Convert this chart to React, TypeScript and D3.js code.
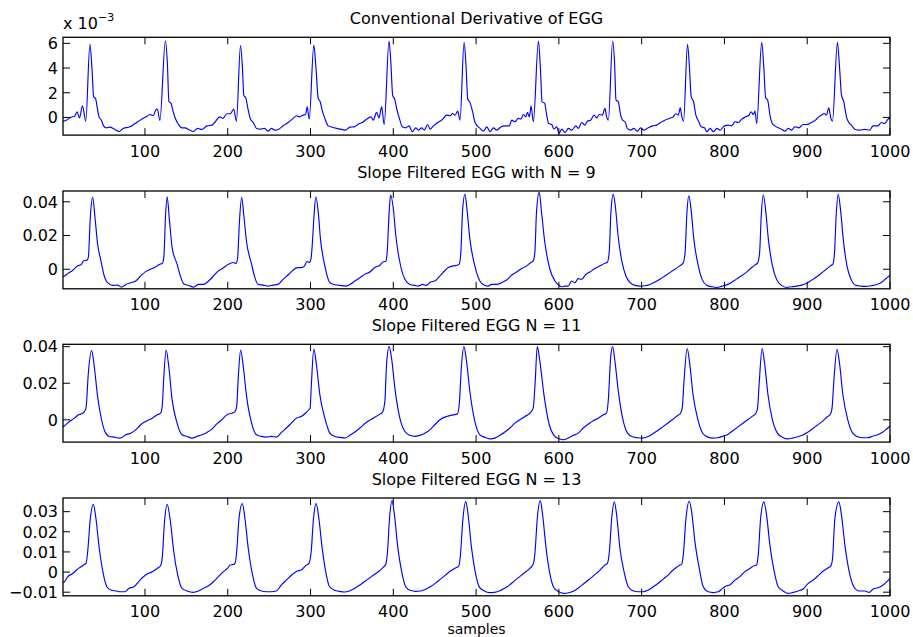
import React from "react";
import * as d3 from "d3";

// ---------- data ----------
const X_TICKS = [100, 200, 300, 400, 500, 600, 700, 800, 900, 1000];

const TITLES = [
  "Conventional Derivative of EGG",
  "Slope Filtered EGG with N = 9",
  "Slope Filtered EGG N = 11",
  "Slope Filtered EGG N = 13",
];

// panel 1 values are in units of 1e-3
const Y_TICKS_1 = [0, 2, 4, 6];
const Y_TICKS_2 = [0, 0.02, 0.04];
const Y_TICKS_3 = [0, 0.02, 0.04];
const Y_TICKS_4 = [-0.01, 0, 0.01, 0.02, 0.03];

const Y_TICK_LABELS_1 = ["0", "2", "4", "6"];
const Y_TICK_LABELS_2 = ["0", "0.02", "0.04"];
const Y_TICK_LABELS_3 = ["0", "0.02", "0.04"];
const Y_TICK_LABELS_4 = ["\u22120.01", "0", "0.01", "0.02", "0.03"];

const Y_DOMAIN_1 = [-1.43, 6.49];
const Y_DOMAIN_2 = [-0.0116, 0.0464];
const Y_DOMAIN_3 = [-0.0122, 0.0413];
const Y_DOMAIN_4 = [-0.0118, 0.0368];

const DERIV: [number, number][] = [
  [1, -0.3], [5, -0.22], [11, 0.03], [15, 0.1], [18, 0.46], [21, -0.03], [24.5, 0.95], [28.5, -0.3],
  [33.5, 5.92], [36, 3.97], [38, 1.68], [40.5, 1.49], [42.5, 0.73], [44.5, 0.05], [47.4, -0.22],
  [50, -0.68], [53.4, -0.84], [57.5, -0.78], [63.6, -0.97], [68.8, -1.14], [73.7, -0.89], [81.8, -0.76],
  [88, -0.49], [96, -0.14], [102.8, 0.11], [106, 0.24], [110, 0.14], [113, 0.59], [115, 0.68],
  [118, -0.25], [124.7, 6.19], [127, 4.5], [129, 1.27], [131.6, 1.14], [133.6, 0.59], [136.4, -0.03],
  [140.5, -0.57], [144.5, -0.84], [148.6, -0.84], [152.6, -0.97], [158.7, -1.14], [163.6, -0.89],
  [168.8, -0.97], [175, -0.68], [181, -0.62], [185, -0.35], [190.3, 0.05], [194.3, -0.08], [199, 0.3],
  [203, 0.3], [207.3, 0.68], [210.5, -0.3], [215.4, 5.81], [217.8, 3.97], [219.4, 1.81], [222, 1.54],
  [224.3, 0.73], [227.5, -0.14], [230.8, -0.41], [234.8, -0.89], [239.7, -0.95], [244.5, -0.89],
  [248.8, -1.11], [252.8, -0.89], [256.9, -1.03], [261.7, -0.95], [267, -0.68], [273, -0.41],
  [279, -0.08], [283, 0.14], [287, 0.05], [291, 0.19], [294, 0.24], [296, 0.86], [298.4, -0.14],
  [304, 5.86], [306.5, 4.1], [309.3, 1.54], [311.7, 1.27], [314, 0.59], [317.3, -0.08], [321.4, -0.68],
  [325.4, -0.78], [331.5, -0.89], [336.7, -0.95], [342.3, -1.03], [347.6, -0.78], [352.8, -0.76],
  [358.5, -0.51], [362.5, -0.41], [367.7, -0.14], [373, 0.05], [375.8, -0.22], [379.8, 0.41],
  [382.7, -0.03], [385.9, 0.86], [389, -0.57], [394.8, 6.19], [397.2, 4.24], [399.2, 1.81], [402, 1.41],
  [404, 0.73], [408, -0.22], [410.9, -0.76], [414.9, -0.84], [419, -0.68], [423, -1.16], [427, -0.84],
  [430.2, -1.03], [434.3, -0.84], [437.5, -1.03], [441.5, -0.57], [444.4, -0.95], [448.4, -0.68],
  [453.6, -0.41], [458.5, -0.22], [464.5, 0.19], [468.5, 0.14], [471.8, 0.32], [474.6, 0.19],
  [477.8, 0.51], [480.6, -0.22], [485.5, 6.08], [487.9, 4.1], [489.9, 1.49], [492.7, 1.2], [495.6, 0.51],
  [498.8, -0.41], [504.8, -0.89], [508.9, -1.11], [512.9, -0.76], [516.9, -1.16], [520.9, -0.84],
  [525, -1.03], [529.8, -0.78], [535, -0.68], [540.2, -0.68], [543, -0.22], [547, -0.35], [551, -0.08],
  [554, -0.14], [557, 0.24], [560, 0.05], [562, 0.41], [564.4, 0.05], [566.4, 0.92], [569.2, -0.35],
  [575.3, 6.19], [577.7, 3.97], [579.7, 1.27], [582.9, 1.14], [585.3, 0.19], [587.7, -0.49],
  [591.3, -0.57], [594.2, -0.95], [597.4, -0.76], [600.2, -1.3], [603.4, -0.95], [607.4, -1.22],
  [611.5, -0.89], [615.5, -1.03], [620.7, -0.68], [623.5, -0.89], [627.6, -0.41], [631.6, -0.62],
  [634.4, -0.3], [638.4, -0.22], [642.5, 0.19], [645.7, -0.03], [648.9, 0.24], [652.5, 0.19],
  [655.7, 0.73], [657.7, 0.05], [659.8, -0.22], [665, 6.19], [667.4, 4.24], [669, 1.41], [671.8, 1.27],
  [674.6, 0.19], [677, -0.22], [680, -0.35], [682.7, -0.89], [686.7, -1.03], [690.7, -0.89],
  [694.8, -1.11], [698.8, -0.84], [702.8, -1.03], [708, -0.84], [713.3, -0.68], [718, -0.62],
  [723, -0.41], [728, -0.22], [733.4, -0.08], [738.2, 0.05], [741.4, 0.3], [744.3, 0.19], [746.6, 0.78],
  [748.6, 0.05], [750.6, -0.3], [755.4, 5.92], [757.8, 3.97], [759.8, 1.68], [762.7, 1.27],
  [765.5, 0.19], [768.7, -0.3], [771.9, -0.76], [775.9, -0.84], [778.7, -1.16], [782.7, -0.89],
  [786.7, -1.16], [790.8, -0.89], [794.8, -1.03], [800, -0.68], [804.8, -0.62], [808.8, -0.68],
  [812.9, -0.35], [816.9, -0.41], [820.9, -0.14], [825.7, 0.05], [829.7, 0.19], [832.1, 0.46],
  [834.9, 0.24], [836.9, 0.51], [839, -0.49], [845, 6.08], [847.4, 4.24], [849.8, 1.59], [852.2, 1.41],
  [855, 0.19], [857.8, -0.49], [861, -0.68], [865, -0.84], [869, -0.95], [873, -1.11], [877, -0.89],
  [881, -1.03], [885, -0.76], [890, -0.84], [895, -0.57], [900, -0.57], [905, -0.41], [910, -0.22],
  [914, 0.05], [917.3, 0.19], [920.5, 0.32], [923.3, 0.19], [926, 0.78], [928.5, -0.03], [930.5, -0.3],
  [936.5, 6.08], [939, 4.1], [941.4, 1.81], [944.2, 1.27], [947.4, 0.05], [950.2, -0.41], [953.4, -0.62],
  [957.4, -0.95], [963.5, -1.03], [969.5, -0.97], [975.5, -1.03], [979.5, -0.68], [985.5, -0.68],
  [989.6, -0.41], [993.6, -0.49], [997.6, -0.14], [1000, -0.08],
];

const SLOPE9: [number, number][] = [
  [1, -0.0045], [2.8, -0.004], [6.8, -0.0026], [12.8, -0.0006], [18.8, 0.002], [22.8, 0.0026], [26, 0.005],
  [30, 0.0054], [31.6, 0.007], [34, 0.031], [36.8, 0.0426], [39.6, 0.031], [42.8, 0.015], [46.8, 0.005],
  [50.8, -0.004], [54.8, -0.008], [60.8, -0.0096], [66.8, -0.0094], [71.6, -0.0106], [76.8, -0.009],
  [82.8, -0.008], [88.8, -0.007], [94.8, -0.004], [100.8, -0.0014], [106.8, 0], [112.8, 0.0014],
  [118, 0.003], [120.8, 0.0034], [122.8, 0.007], [124.8, 0.031], [126.8, 0.043], [129.6, 0.029],
  [132.8, 0.013], [138.8, 0.003], [142.8, -0.004], [146.8, -0.0086], [152.8, -0.0096], [158.8, -0.0106],
  [164.8, -0.009], [170.8, -0.009], [176.8, -0.007], [182.8, -0.004], [188.8, -0.001], [194, 0.0006],
  [200.8, 0.003], [206.8, 0.004], [210, 0.0034], [212, 0.007], [214, 0.027], [216.8, 0.0426],
  [219.6, 0.031], [222.8, 0.016], [228.8, 0.003], [232.8, -0.005], [236.8, -0.009], [242.8, -0.0094],
  [248.8, -0.01], [254.8, -0.0094], [260.8, -0.009], [266.8, -0.006], [272.8, -0.0034], [278.8, -0.0006],
  [284, 0.001], [288.8, 0.001], [292.8, 0.002], [295.6, 0.0046], [298.8, 0.004], [300.8, 0.007],
  [302.8, 0.02], [304, 0.03], [306.4, 0.043], [309.3, 0.034], [312, 0.018], [317.3, 0.002],
  [323.4, -0.008], [329.4, -0.0092], [335.4, -0.0096], [342.7, -0.01], [347.5, -0.009], [353.6, -0.007],
  [359.6, -0.005], [365.6, -0.003], [371.7, -0.0016], [377.7, 0.001], [383.8, 0.0024], [387.8, 0.0044],
  [391, 0.0048], [392.6, 0.01], [395, 0.034], [396.7, 0.044], [400, 0.036], [403, 0.02], [408, 0.004],
  [414, -0.006], [420, -0.009], [426, -0.0096], [430, -0.01], [435.3, -0.009], [440, -0.0096],
  [445, -0.0076], [450, -0.007], [455.5, -0.0044], [460, -0.002], [466.3, 0.001], [472.4, 0.002],
  [477.2, 0.0024], [479.6, 0.003], [481.6, 0.01], [483.6, 0.034], [486.5, 0.0444], [489.3, 0.034],
  [492.5, 0.018], [498.5, 0.002], [504.6, -0.007], [510.6, -0.0096], [514.7, -0.01], [518.7, -0.009],
  [524.7, -0.009], [530.8, -0.008], [536.8, -0.0064], [542.8, -0.0036], [548.9, -0.0016], [555, 0.0004],
  [561, 0.002], [565, 0.0036], [569, 0.005], [571, 0.01], [573, 0.034], [576.3, 0.0456], [579, 0.034],
  [583, 0.016], [589.2, 0], [595.2, -0.007], [600.4, -0.0096], [603.3, -0.0104], [607.3, -0.01],
  [611.3, -0.01], [615.3, -0.007], [619.4, -0.008], [623.4, -0.0056], [627.4, -0.006], [632.7, -0.003],
  [637.5, -0.0016], [643.5, 0.0004], [649.6, 0.002], [655.6, 0.0036], [658.4, 0.004], [660.8, 0.01],
  [662.9, 0.034], [665.7, 0.0444], [668.5, 0.036], [671.5, 0.02], [676, 0.005], [681, -0.004],
  [686, -0.008], [692, -0.0096], [698, -0.01], [704, -0.0098], [710, -0.009], [716, -0.0076],
  [722, -0.006], [728, -0.004], [734, -0.002], [740, 0], [746, 0.002], [750, 0.0036], [752.5, 0.01],
  [754.5, 0.032], [757, 0.0435], [760, 0.034], [763, 0.018], [768, 0.003], [773, -0.006], [779, -0.0096],
  [785, -0.0104], [791, -0.0108], [797, -0.01], [802, -0.0094], [808, -0.008], [814, -0.006],
  [820, -0.004], [826, -0.002], [832, 0.0006], [837, 0.0026], [840, 0.0036], [842.5, 0.01],
  [844.5, 0.032], [847, 0.044], [850, 0.034], [853, 0.018], [858, 0.002], [863, -0.006], [869, -0.0096],
  [875, -0.0108], [881, -0.0104], [887, -0.01], [893, -0.0094], [899, -0.0084], [905, -0.0066],
  [911, -0.0046], [917, -0.0024], [923, 0], [928, 0.002], [931, 0.003], [933, 0.01], [935, 0.032],
  [937.5, 0.0445], [940.5, 0.034], [943.5, 0.018], [948, 0.002], [953, -0.006], [959, -0.0096],
  [965, -0.01], [971, -0.0102], [977, -0.0098], [983, -0.0092], [989, -0.008], [995, -0.0056],
  [1000, -0.0036],
];

const SLOPE11: [number, number][] = [
  [1, -0.0038], [2.8, -0.0033], [8.8, -0.0009], [14.8, 0.0009], [19.6, 0.0027], [23.6, 0.0033],
  [26.8, 0.0045], [28.8, 0.0064], [31.6, 0.0255], [35.6, 0.0378], [38.8, 0.029], [42.8, 0.0127],
  [46.8, 0.0018], [51.6, -0.0064], [56.8, -0.0091], [62.8, -0.0095], [68.8, -0.01], [72.8, -0.0095],
  [76.8, -0.0082], [82.8, -0.0073], [88.8, -0.0055], [94.8, -0.0027], [100.8, -0.0009], [108.8, 0.0009],
  [114.8, 0.0027], [118.8, 0.0036], [120.8, 0.0073], [122.8, 0.0236], [125.6, 0.0382], [128.8, 0.029],
  [132.8, 0.0109], [138.8, -0.0018], [144.8, -0.0082], [150.8, -0.0091], [156.8, -0.01],
  [162.8, -0.0091], [168.8, -0.0082], [174.8, -0.0069], [180.8, -0.0051], [186.8, -0.0022], [192.8, 0],
  [198.8, 0.0027], [204.8, 0.0036], [208.8, 0.0045], [210.8, 0.0073], [212.8, 0.0236], [215.6, 0.0382],
  [218.8, 0.029], [222.8, 0.0127], [228.8, -0.0018], [234.8, -0.0082], [240.8, -0.0091],
  [246.8, -0.0095], [252.8, -0.0091], [258.8, -0.0095], [264.8, -0.0069], [270.8, -0.0045],
  [276.8, -0.0018], [282.8, 0.0009], [288.8, 0.0018], [294.8, 0.004], [298, 0.0055], [299.5, 0.0064],
  [301, 0.019], [304, 0.0387], [307.2, 0.03], [311.3, 0.0136], [317.3, 0.0009], [323.4, -0.0073],
  [329.4, -0.0091], [335.4, -0.0096], [341.5, -0.01], [347.5, -0.0085], [353.6, -0.0067],
  [359.6, -0.0045], [367.7, -0.0013], [375.7, 0.0009], [383.8, 0.0031], [387, 0.0042], [389.8, 0.01],
  [391.8, 0.03], [395, 0.04], [397.9, 0.0336], [401.9, 0.0173], [407.9, 0.0009], [414, -0.0064],
  [420, -0.0085], [426, -0.0091], [432, -0.0085], [438.1, -0.0073], [444.2, -0.0055], [450.2, -0.0027],
  [456.3, 0], [464.3, 0.0018], [472.4, 0.0027], [477.2, 0.0031], [479.6, 0.0082], [482.4, 0.03],
  [485.3, 0.04], [488.5, 0.0318], [492.5, 0.0155], [498.5, -0.0009], [504.6, -0.0082], [510.6, -0.0096],
  [516.7, -0.0104], [522.7, -0.01], [528.8, -0.0085], [534.8, -0.0067], [540.8, -0.0045],
  [546.9, -0.0018], [552.9, 0], [559, 0.0018], [565, 0.0036], [569, 0.0064], [571.4, 0.0209],
  [573.9, 0.04], [577.1, 0.0318], [582, 0.0136], [588.4, -0.0027], [594, -0.0085], [600.4, -0.0104],
  [605.3, -0.0109], [611.3, -0.01], [617.4, -0.0085], [623.4, -0.0073], [629.4, -0.0045],
  [635.5, -0.0024], [641.5, -0.0005], [647.6, 0.0009], [653.6, 0.0027], [657.6, 0.0036], [659.6, 0.01],
  [662.5, 0.0336], [664.9, 0.04], [668, 0.031], [672, 0.015], [677, 0.0009], [683, -0.0073],
  [689, -0.0093], [695, -0.0098], [701, -0.01], [707, -0.0093], [713, -0.0078], [719, -0.006],
  [725, -0.004], [731, -0.002], [737, 0], [743, 0.0022], [747, 0.0036], [749, 0.0064], [751, 0.02],
  [755, 0.039], [758, 0.031], [762, 0.014], [768, 0], [774, -0.0075], [780, -0.0095], [786, -0.01],
  [792, -0.0098], [798, -0.009], [804, -0.008], [810, -0.006], [816, -0.004], [822, -0.002], [828, 0],
  [834, 0.002], [838, 0.0036], [840, 0.0064], [842, 0.02], [845.5, 0.039], [848.5, 0.031],
  [852.5, 0.014], [858, 0], [864, -0.0073], [870, -0.0095], [876, -0.0104], [882, -0.01], [888, -0.0093],
  [894, -0.0085], [900, -0.007], [906, -0.005], [912, -0.003], [918, -0.001], [924, 0.0015], [928, 0.003],
  [930, 0.0064], [932, 0.02], [936, 0.0385], [939, 0.031], [943, 0.014], [949, 0], [955, -0.0073],
  [961, -0.0093], [967, -0.0098], [973, -0.0098], [979, -0.009], [985, -0.0082], [991, -0.0068],
  [996, -0.005], [1000, -0.0035],
];

const SLOPE13: [number, number][] = [
  [1, -0.0052], [2.8, -0.0048], [6.8, -0.0023], [12.8, -0.0007], [18, 0.0013], [22.8, 0.0026],
  [26.8, 0.0038], [28.8, 0.0043], [30.8, 0.0101], [34, 0.0266], [37.6, 0.0336], [40.8, 0.0266],
  [44.8, 0.0117], [48.8, 0.001], [54, -0.0073], [58.8, -0.0089], [64.8, -0.0094], [70.8, -0.0098],
  [75.6, -0.0098], [80.8, -0.0081], [86.8, -0.0073], [94, -0.004], [100.8, -0.0015], [108.8, 0.0002],
  [114.8, 0.0018], [118.8, 0.0031], [120.8, 0.0068], [123.6, 0.025], [126.8, 0.0336], [130.8, 0.025],
  [134.8, 0.0101], [139.6, -0.0015], [144.8, -0.0081], [150.8, -0.0094], [158, -0.0101],
  [164.8, -0.0094], [170.8, -0.0081], [176.8, -0.0068], [182.8, -0.0048], [188.8, -0.0023],
  [194.8, 0.0002], [199.6, 0.0018], [202.8, 0.0035], [206.8, 0.0038], [208.8, 0.0043], [210.8, 0.0101],
  [213.6, 0.0266], [217.6, 0.034], [220.8, 0.0266], [224.8, 0.0117], [230, -0.0015], [234.8, -0.0081],
  [240.8, -0.0094], [246.8, -0.0098], [252.8, -0.0098], [258.8, -0.0094], [264.8, -0.0064],
  [270.8, -0.004], [278, -0.0012], [284, 0.0005], [288.8, 0.001], [294, 0.0031], [298, 0.0043],
  [300.8, 0.0101], [303.6, 0.0266], [306.8, 0.034], [310, 0.027], [314, 0.012], [318, 0.001],
  [323, -0.0073], [329, -0.009], [335, -0.0096], [341, -0.0099], [347, -0.0094], [353, -0.0082],
  [359, -0.0066], [365, -0.0048], [371, -0.003], [377, -0.0012], [383, 0.0005], [388, 0.0024],
  [391, 0.004], [393, 0.01], [395.5, 0.027], [398.5, 0.0355], [401.5, 0.028], [405.5, 0.012],
  [410, 0.0005], [415, -0.0073], [421, -0.0092], [427, -0.0096], [433, -0.0094], [439, -0.0085],
  [445, -0.0072], [451, -0.0055], [457, -0.0035], [463, -0.0015], [469, 0.0005], [475, 0.002],
  [479, 0.003], [481, 0.008], [484, 0.026], [487.5, 0.035], [490.5, 0.028], [494.5, 0.012], [499, 0],
  [504, -0.0075], [510, -0.0094], [516, -0.0102], [522, -0.0101], [528, -0.0094], [534, -0.0082],
  [540, -0.0066], [546, -0.0045], [552, -0.0025], [558, -0.0005], [564, 0.0015], [569, 0.004],
  [571, 0.009], [574, 0.027], [577.5, 0.0355], [580.5, 0.028], [584.5, 0.012], [589, -0.0005],
  [594, -0.0078], [600, -0.0098], [606, -0.0106], [612, -0.0103], [618, -0.0094], [624, -0.0078],
  [630, -0.0058], [636, -0.0038], [642, -0.0018], [649.7, 0.001], [655.7, 0.0035], [658.6, 0.0043],
  [661, 0.0101], [663.8, 0.0266], [667, 0.0349], [669.8, 0.0283], [673.8, 0.0117], [678.7, 0.0002],
  [683.9, -0.0073], [690, -0.0094], [696, -0.0098], [702, -0.0098], [708, -0.0089], [714, -0.0073],
  [720, -0.0056], [726, -0.0035], [732, -0.0015], [738, 0.001], [743, 0.0026], [746.3, 0.0035],
  [748.3, 0.0038], [750.3, 0.0084], [753.5, 0.0266], [757.5, 0.0352], [760.4, 0.0299], [764.4, 0.015],
  [769.6, 0.0018], [774.4, -0.0073], [780.5, -0.0098], [786.5, -0.0102], [792.6, -0.0098],
  [797.8, -0.0081], [802.6, -0.0068], [806.6, -0.0064], [812.7, -0.004], [818.7, -0.0023],
  [824.7, 0.0002], [830.8, 0.0018], [835.6, 0.0031], [838.8, 0.0035], [840.8, 0.0084], [843.7, 0.0266],
  [847.7, 0.0349], [850.9, 0.0283], [854.9, 0.0134], [859.8, 0.001], [865, -0.0073], [871, -0.0094],
  [877, -0.0106], [883, -0.0101], [889, -0.0094], [895.2, -0.0084], [901.2, -0.0056], [907.2, -0.004],
  [913.3, -0.0018], [919.3, 0.0005], [925.4, 0.0021], [928.6, 0.0031], [930.6, 0.0068], [933.4, 0.0266],
  [938.2, 0.0349], [941.4, 0.0283], [945.5, 0.0134], [950.7, 0.0002], [956.3, -0.0073], [962.8, -0.0094],
  [969.6, -0.0094], [974.8, -0.0101], [979.7, -0.0084], [985.7, -0.0078], [991.8, -0.0064],
  [996.8, -0.0045], [1000, -0.0031],
];

// ---------- layout ----------
const W = 913;
const H = 637;
const LEFT = 63;
const RIGHT = 890;
const TOPS = [37.3, 191, 344.3, 498];
const PH = 97.8;
const FONT = "'DejaVu Sans', Verdana, sans-serif";
const FS = 16;
const TICK = 7;

const panels = [
  { title: TITLES[0], data: DERIV, domain: Y_DOMAIN_1, ticks: Y_TICKS_1, labels: Y_TICK_LABELS_1 },
  { title: TITLES[1], data: SLOPE9, domain: Y_DOMAIN_2, ticks: Y_TICKS_2, labels: Y_TICK_LABELS_2 },
  { title: TITLES[2], data: SLOPE11, domain: Y_DOMAIN_3, ticks: Y_TICKS_3, labels: Y_TICK_LABELS_3 },
  { title: TITLES[3], data: SLOPE13, domain: Y_DOMAIN_4, ticks: Y_TICKS_4, labels: Y_TICK_LABELS_4 },
];

export default function App() {
  const x = d3.scaleLinear().domain([1, 1000]).range([LEFT, RIGHT]);
  return (
    <svg
      width={W}
      height={H}
      style={{ position: "absolute", left: 0, top: 0, background: "#fff" }}
      fontFamily={FONT}
    >
      <rect x={0} y={0} width={W} height={H} fill="#fff" />
      {panels.map((p, i) => {
        const top = TOPS[i];
        const y = d3.scaleLinear().domain(p.domain).range([top + PH, top]);
        const line = d3
          .line<[number, number]>()
          .x((d) => x(d[0]))
          .y((d) => y(d[1]))
          .curve(d3.curveMonotoneX);
        const clipId = `clip${i}`;
        return (
          <g key={i}>
            <clipPath id={clipId}>
              <rect x={LEFT} y={top} width={RIGHT - LEFT} height={PH} />
            </clipPath>
            <text
              x={(LEFT + RIGHT) / 2}
              y={top - 13.3}
              textAnchor="middle"
              fontSize={FS}
              fill="#000"
            >
              {p.title}
            </text>
            <path
              d={line(p.data) || ""}
              fill="none"
              stroke="#0000ff"
              strokeWidth={1.15}
              strokeLinejoin="round"
              clipPath={`url(#${clipId})`}
            />
            {X_TICKS.map((t) => (
              <g key={t}>
                <line x1={x(t)} x2={x(t)} y1={top + PH} y2={top + PH - TICK} stroke="#000" strokeWidth={1} />
                <line x1={x(t)} x2={x(t)} y1={top} y2={top + TICK} stroke="#000" strokeWidth={1} />
                <text x={x(t)} y={top + PH + 21.5} textAnchor="middle" fontSize={FS} fill="#000">
                  {t}
                </text>
              </g>
            ))}
            {p.ticks.map((t, j) => (
              <g key={j}>
                <line x1={LEFT} x2={LEFT + TICK} y1={y(t)} y2={y(t)} stroke="#000" strokeWidth={1} />
                <line x1={RIGHT} x2={RIGHT - TICK} y1={y(t)} y2={y(t)} stroke="#000" strokeWidth={1} />
                <text
                  x={LEFT - 5}
                  y={y(t)}
                  dy="0.36em"
                  textAnchor="end"
                  fontSize={FS}
                  fill="#000"
                >
                  {p.labels[j]}
                </text>
              </g>
            ))}
            <rect
              x={LEFT}
              y={top}
              width={RIGHT - LEFT}
              height={PH}
              fill="none"
              stroke="#000"
              strokeWidth={1.3}
            />
          </g>
        );
      })}
      <text x={LEFT} y={29.3} fontSize={FS} fill="#000">
        x 10
        <tspan dy={-8} fontSize={11}>
          {"\u22123"}
        </tspan>
      </text>
      <text x={(LEFT + RIGHT) / 2} y={634} textAnchor="middle" fontSize={14} fill="#000">
        samples
      </text>
    </svg>
  );
}
